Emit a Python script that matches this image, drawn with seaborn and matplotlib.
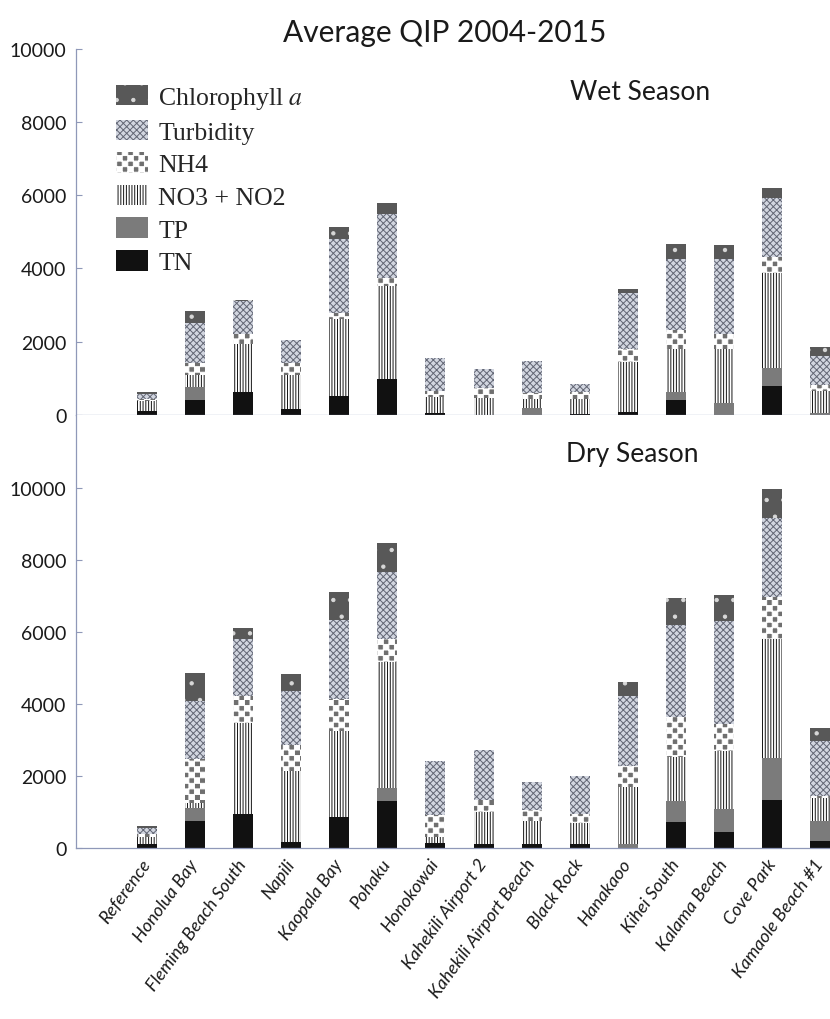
import numpy as np
import seaborn as sns
import matplotlib.pyplot as plt
import matplotlib.hatch as mhatch
from matplotlib.path import Path
from matplotlib.patches import Patch

# Sites along the x axis
sites = ['Reference', 'Honolua Bay', 'Fleming Beach South', 'Napili', 'Kaopala Bay',
         'Pohaku', 'Honokowai', 'Kahekili Airport 2', 'Kahekili Airport Beach',
         'Black Rock', 'Hanakaoo', 'Kihei South', 'Kalama Beach', 'Cove Park',
         'Kamaole Beach #1']

# Wet season QIP components
wet_tn = [110, 400, 627, 155, 500, 973, 50, 0, 0, 20, 80, 409, 0, 773, 0]
wet_tp = [0, 345, 0, 0, 0, 0, 0, 0, 173, 0, 0, 200, 309, 500, 45]
wet_no3 = [250, 345, 1300, 927, 2109, 2545, 420, 445, 254, 407, 1365, 1182, 1482, 2591, 610]
wet_nh4 = [60, 320, 270, 327, 182, 227, 180, 282, 164, 200, 345, 527, 409, 454, 154]
wet_turb = [140, 1110, 900, 636, 2018, 1745, 910, 518, 864, 209, 1527, 1946, 2045, 1609, 782]
wet_chl = [50, 320, 40, 0, 327, 300, 0, 0, 0, 0, 128, 391, 382, 273, 264]

# Dry season QIP components
dry_tn = [110, 759, 944, 157, 852, 1296, 139, 111, 111, 111, 0, 713, 454, 1343, 185]
dry_tp = [0, 343, 0, 0, 0, 361, 0, 0, 0, 0, 111, 602, 629, 1148, 574]
dry_no3 = [185, 139, 2519, 1991, 2389, 3519, 176, 898, 648, 574, 1574, 1204, 1621, 3333, 621]
dry_nh4 = [90, 1231, 768, 713, 916, 630, 602, 334, 306, 259, 584, 1111, 740, 1167, 74]
dry_turb = [160, 1621, 1593, 1509, 2176, 1870, 1509, 1388, 759, 1065, 1962, 2564, 2871, 2194, 1527]
dry_chl = [60, 787, 306, 463, 797, 796, 0, 0, 0, 0, 389, 769, 722, 806, 352]

labels = ['TN', 'TP', 'NO3 + NO2', 'NH4', 'Turbidity', 'Chlorophyll $a$']


# checkerboard hatch for NH4 (takes the place of the unused 'O' pattern)
class CheckerHatch(mhatch.HatchPatternBase):
    filled = True

    def __init__(self, hatch, density):
        self.n = hatch.count('O') * 18
        self.num_vertices = 5 * (self.n * self.n // 2)

    def set_vertices_and_codes(self, vertices, codes):
        s = 1.0 / self.n
        k = 0
        for i in range(self.n):
            for j in range(self.n):
                if (i + j) % 2:
                    continue
                x0, y0 = i * s, j * s
                vertices[k:k + 5] = [(x0, y0), (x0 + s, y0), (x0 + s, y0 + s),
                                     (x0, y0 + s), (x0, y0)]
                codes[k:k + 5] = [Path.MOVETO, Path.LINETO, Path.LINETO,
                                  Path.LINETO, Path.CLOSEPOLY]
                k += 5


mhatch._hatch_types = [CheckerHatch if t is mhatch.LargeCircles else t
                       for t in mhatch._hatch_types]

sns.set_style('white')
plt.rcParams['font.family'] = ['Lato', 'DejaVu Sans']
plt.rcParams['mathtext.fontset'] = 'stix'
plt.rcParams['hatch.linewidth'] = 0.7

# face colour, hatch colour, hatch pattern for TN, TP, NO3, NH4, Turb, Chl
styles = [
    ('#111111', '#111111', None),
    ('#7b7b7b', '#7b7b7b', None),
    ('#ffffff', '#141414', '||||||'),
    ('#6f6f6f', '#ffffff', 'O'),
    ('#d2d6e0', '#626674', 'xxxxx'),
    ('#585858', '#d8d8d8', '.'),
]
axis_c = '#8f98b8'

fig = plt.figure(figsize=(8.3, 10.2), dpi=100)
ax_wet = fig.add_axes([0.0916, 0.5925, 0.9084, 0.3585])
ax_dry = fig.add_axes([0.0916, 0.1676, 0.9084, 0.4249])


def draw_panel(ax, layers):
    cum = np.cumsum(np.array(layers, dtype=float), axis=0)
    # draw totals first, then each lower cumulative layer on top
    for k in range(len(layers) - 1, -1, -1):
        face, hc, hatch = styles[k]
        sns.barplot(x=sites, y=cum[k], order=sites, ax=ax, color=face,
                    saturation=1, width=0.415, edgecolor=hc, linewidth=0,
                    hatch=hatch, errorbar=None)
    ax.set_xlim(-1.47, 14.2)
    ax.set_yticks(range(0, 10001, 2000))
    ax.set_ylabel('')
    for s in ['top', 'right']:
        ax.spines[s].set_visible(False)
    for s in ['left', 'bottom']:
        ax.spines[s].set_color(axis_c)
        ax.spines[s].set_linewidth(0.9)
    ax.tick_params(axis='y', direction='in', length=4, width=0.8, color=axis_c,
                   labelsize=14, labelcolor='#1a1a1a', pad=7, left=True)
    ax.tick_params(axis='x', length=0)


draw_panel(ax_wet, [wet_tn, wet_tp, wet_no3, wet_nh4, wet_turb, wet_chl])
draw_panel(ax_dry, [dry_tn, dry_tp, dry_no3, dry_nh4, dry_turb, dry_chl])

ax_wet.set_ylim(0, 10000)
ax_dry.set_ylim(0, 12050)
ax_wet.set_xticklabels([])
ax_dry.set_xticks(range(len(sites)))
ax_dry.set_xticklabels(sites, rotation=54, ha='right', va='center',
                       rotation_mode='anchor', fontsize=13, fontstyle='italic',
                       color='#1a1a1a')
ax_dry.tick_params(axis='x', pad=9)

# legend, top entry first
handles = []
for k in range(len(labels) - 1, -1, -1):
    face, hc, hatch = styles[k]
    handles.append(Patch(facecolor=face, edgecolor=hc, linewidth=0, hatch=hatch,
                         label=labels[k]))
ax_wet.legend(handles=handles, loc='upper left', bbox_to_anchor=(116 / 830, 1 - 86 / 1020),
              bbox_transform=fig.transFigure, frameon=False, borderpad=0,
              borderaxespad=0, handlelength=1.25, handleheight=0.85,
              handletextpad=0.4, labelspacing=0.33,
              prop={'family': 'Liberation Serif', 'size': 18.5})

fig.text(445 / 830, 1 - 33 / 1020, 'Average QIP 2004-2015', ha='center', va='center',
         fontsize=21.5, color='#1a1a1a')
fig.text(640 / 830, 1 - 93 / 1020, 'Wet Season', ha='center', va='center',
         fontsize=19, color='#1a1a1a')
fig.text(632 / 830, 1 - 455 / 1020, 'Dry Season', ha='center', va='center',
         fontsize=19, color='#1a1a1a')

fig.savefig('out.png', dpi=100)
